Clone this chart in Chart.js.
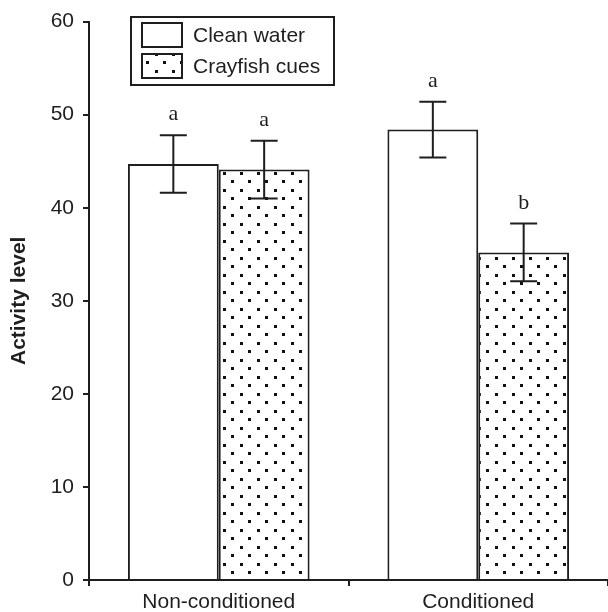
<!DOCTYPE html>
<html><head><meta charset="utf-8">
<script src="https://cdn.jsdelivr.net/npm/chart.js@4"></script>
<style>html,body{margin:0;padding:0;background:#fff}</style></head>
<body><canvas id="c" width="608" height="612"></canvas>
<script>
const categories = ['Non-conditioned', 'Conditioned'];
const seriesNames = ['Clean water', 'Crayfish cues'];
const cleanWater = [44.7, 48.4];
const crayfishCues = [44.1, 35.2];
const cleanWaterErr = [3.1, 3.0];
const crayfishCuesErr = [3.1, 3.1];
const cleanWaterLetters = ['a', 'a'];
const crayfishCuesLetters = ['a', 'b'];
const yMin = 0, yMax = 60, yStep = 10;
const yTitle = 'Activity level';

const INK = '#1e1e1e';

function makePattern() {
  const t = document.createElement('canvas');
  t.width = 17; t.height = 17;
  const g = t.getContext('2d');
  g.fillStyle = '#fff'; g.fillRect(0, 0, 17, 17);
  g.fillStyle = '#111';
  g.fillRect(2, 2, 3, 3);
  g.fillRect(10, 10, 3, 3);
  return document.getElementById('c').getContext('2d').createPattern(t, 'repeat');
}
const dots = makePattern();

const errs = [cleanWaterErr, crayfishCuesErr];
const letters = [cleanWaterLetters, crayfishCuesLetters];

const errorPlugin = {
  id: 'errs',
  afterDatasetsDraw(chart) {
    const ctx = chart.ctx, y = chart.scales.y;
    ctx.save();
    ctx.strokeStyle = INK; ctx.lineWidth = 2; ctx.fillStyle = INK;
    chart.data.datasets.forEach((ds, di) => {
      const meta = chart.getDatasetMeta(di);
      meta.data.forEach((bar, i) => {
        const v = ds.data[i], e = errs[di][i];
        const yt = y.getPixelForValue(v + e), yb = y.getPixelForValue(v - e);
        const x = bar.x;
        ctx.beginPath();
        ctx.moveTo(x, yt); ctx.lineTo(x, yb);
        ctx.moveTo(x - 13.5, yt); ctx.lineTo(x + 13.5, yt);
        ctx.moveTo(x - 13.5, yb); ctx.lineTo(x + 13.5, yb);
        ctx.stroke();
        ctx.font = '22px "Liberation Serif", "Times New Roman", serif';
        ctx.textAlign = 'center'; ctx.textBaseline = 'alphabetic';
        ctx.fillText(letters[di][i], x, yt - 15);
      });
    });
    ctx.restore();
  }
};

const legendPlugin = {
  id: 'boxLegend',
  afterDraw(chart) {
    const ctx = chart.ctx;
    ctx.save();
    ctx.strokeStyle = INK; ctx.lineWidth = 2;
    ctx.strokeRect(131, 17, 203, 68);
    const rows = [23, 54];
    chart.data.datasets.forEach((ds, di) => {
      ctx.fillStyle = ds.backgroundColor;
      ctx.fillRect(142, rows[di], 40, 24);
      ctx.strokeRect(142, rows[di], 40, 24);
      ctx.fillStyle = INK;
      ctx.font = '21px "Liberation Sans", Arial, sans-serif';
      ctx.textAlign = 'left'; ctx.textBaseline = 'middle';
      ctx.fillText(ds.label, 193, rows[di] + 13);
    });
    ctx.restore();
  }
};

new Chart(document.getElementById('c'), {
  type: 'bar',
  data: {
    labels: categories,
    datasets: [
      { label: seriesNames[0], data: cleanWater, backgroundColor: '#fff', borderColor: INK, borderWidth: 2 },
      { label: seriesNames[1], data: crayfishCues, backgroundColor: dots, borderColor: INK, borderWidth: 2 }
    ]
  },
  options: {
    responsive: false,
    animation: false,
    layout: { padding: { top: 8, right: 0, bottom: 0, left: 0 } },
    datasets: { bar: { categoryPercentage: 0.7, barPercentage: 1.0 } },
    plugins: { legend: { display: false }, tooltip: { enabled: false } },
    scales: {
      x: {
        afterFit(s) { s.height = 32; },
        grid: { offset: true, drawOnChartArea: false, tickLength: 6, color: INK, lineWidth: 2 },
        border: { color: INK, width: 2 },
        ticks: { color: INK, padding: 4, font: { family: '"Liberation Sans", Arial, sans-serif', size: 21 } }
      },
      y: {
        min: yMin, max: yMax,
        afterFit(s) { s.width = 89; },
        grid: { drawOnChartArea: false, tickLength: 6, color: INK, lineWidth: 2 },
        border: { color: INK, width: 2 },
        ticks: { stepSize: yStep, color: INK, padding: 9, font: { family: '"Liberation Sans", Arial, sans-serif', size: 21 } },
        title: { display: true, text: yTitle, color: INK, padding: { top: 7, bottom: 0 },
          font: { family: '"Liberation Sans", Arial, sans-serif', size: 21, weight: 'bold' } }
      }
    }
  },
  plugins: [errorPlugin, legendPlugin]
});
</script>
</body></html>
